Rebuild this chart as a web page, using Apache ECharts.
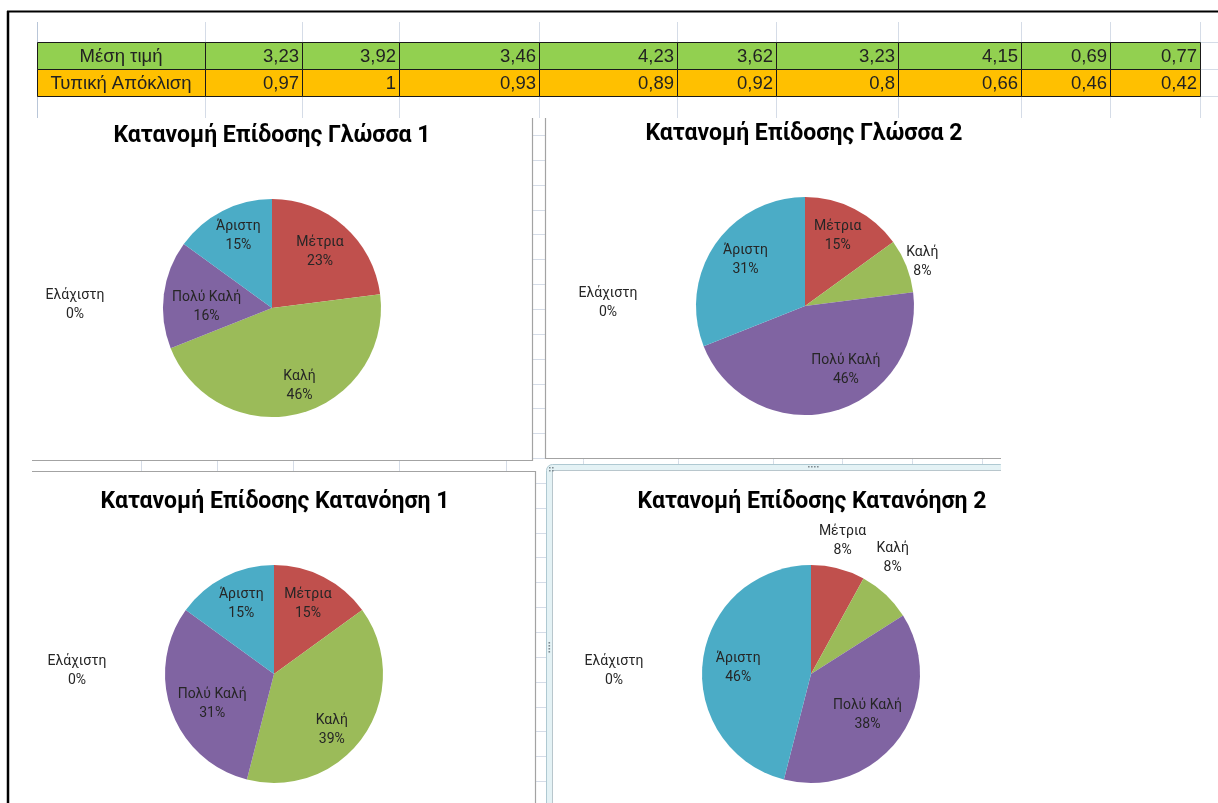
<!DOCTYPE html>
<html><head><meta charset="utf-8">
<script src="https://cdn.jsdelivr.net/npm/echarts@6/dist/echarts.min.js"></script>
<style>html,body{margin:0;padding:0;background:#fff}#c{width:1218px;height:803px}</style>
</head><body><div id="c"></div><script>
// ---------------- data ----------------
const categories = ['Ελάχιστη', 'Μέτρια', 'Καλή', 'Πολύ Καλή', 'Άριστη'];
const chartTitles = ['Κατανομή Επίδοσης Γλώσσα 1', 'Κατανομή Επίδοσης Γλώσσα 2',
  'Κατανομή Επίδοσης Κατανόηση 1', 'Κατανομή Επίδοσης Κατανόηση 2'];
const glossa1 = [0, 23, 46, 16, 15];
const glossa2 = [0, 15, 8, 46, 31];
const katanoisi1 = [0, 15, 39, 31, 15];
const katanoisi2 = [0, 8, 8, 38, 46];
const tableRowLabels = ['Μέση τιμή', 'Τυπική Απόκλιση'];
const meanValues = [3.23, 3.92, 3.46, 4.23, 3.62, 3.23, 4.15, 0.69, 0.77];
const stdValues = [0.97, 1, 0.93, 0.89, 0.92, 0.8, 0.66, 0.46, 0.42];

// ---------------- layout / style ----------------
const sliceColors = ['#4F81BD', '#C0504D', '#9BBB59', '#8064A2', '#4BACC6'];
const colEdges = [37, 205, 302, 399, 539, 677, 776, 898, 1021, 1110, 1200];
const rowEdges = [42, 69, 96];
const rowFills = ['#92D050', '#FFC000'];
const lowerCols = [141, 217, 293, 399, 506, 583, 678, 773, 842, 912, 982];
const GRID = '#D5DCE7';
const FRAME = '#A3A3A3';
const R = 109;
const ZERO_DX = -197, ZERO_DY = -3;
const pieLayouts = [
  { center: [272, 308], title: [272, 136], adj: [null, [0.68, -1], [0.76, -5], [0.60, -6], [0.73, 2]] },
  { center: [805, 306], title: [804, 134], adj: [null, [0.71, -2], [1.15, 1], [0.70, -18], [0.69, 3.5]] },
  { center: [274, 674], title: [275, 502], adj: [null, [0.71, -1], [0.74, 10], [0.63, -6], [0.71, 2]] },
  { center: [811, 674], title: [812, 502], adj: [null, [1.25, -1], [1.30, -8], [0.64, 0], [0.67, -2.5]] }
];
const pieData = [glossa1, glossa2, katanoisi1, katanoisi2];

function fmt(v) { return String(v).replace('.', ','); }

// ---------------- graphic: sheet, frames, table ----------------
const g = [];
function line(x1, y1, x2, y2, color, w, z) {
  g.push({ type: 'line', z: z, silent: true, shape: { x1, y1, x2, y2 }, style: { stroke: color, lineWidth: w } });
}
function rect(x, y, w, h, fill, stroke, lw, z, r) {
  g.push({ type: 'rect', z: z, silent: true, shape: { x, y, width: w, height: h, r: r || 0 },
    style: { fill: fill, stroke: stroke || null, lineWidth: lw || 0 } });
}
// top sheet grid lines
colEdges.forEach(x => line(x + 0.5, 22, x + 0.5, 118, x === 37 ? '#B9C6D8' : GRID, 1, 0));
rowEdges.forEach(y => line(1200, y + 0.5, 1218, y + 0.5, GRID, 1, 0));
// lower sheet grid
lowerCols.forEach(x => line(x + 0.5, 118, x + 0.5, 803, GRID, 1, 0));
for (let y = 135; y < 803; y += 24.85) line(32, Math.round(y) + 0.5, 1000, Math.round(y) + 0.5, GRID, 1, 0);
// chart areas
rect(32, 118, 500, 342, '#fff', null, 0, 1);
line(532.5, 118, 532.5, 461, FRAME, 1.2, 2);
line(32, 460.5, 533, 460.5, FRAME, 1.2, 2);
rect(545, 118, 470, 340, '#fff', null, 0, 1);
line(545.5, 118, 545.5, 459, FRAME, 1.2, 2);
line(545, 458.5, 1001, 458.5, FRAME, 1.2, 2);
rect(32, 471, 503, 340, '#fff', null, 0, 1);
line(32, 471.5, 536, 471.5, FRAME, 1.2, 2);
line(535.5, 471, 535.5, 803, FRAME, 1.2, 2);
// selected chart frame (cut at the window edge x=1000)
rect(546.5, 464.5, 460, 350, '#E4F2F5', '#AFC9D2', 1, 1, 6);
rect(552.5, 470.5, 460, 350, '#fff', '#B8C6CC', 1, 1, 0);
rect(1001, 460, 20, 343, '#fff', null, 0, 2);
[808, 811, 814, 817].forEach(x => rect(x, 466, 1.6, 1.6, '#7F8B92', null, 0, 2));
[642, 645, 648, 651].forEach(y => rect(548.5, y, 1.6, 1.6, '#7F8B92', null, 0, 2));
[[549, 467], [552, 467], [549, 470], [552, 470]].forEach(p => rect(p[0], p[1], 1.6, 1.6, '#7F8B92', null, 0, 2));
// outer black frame
line(7, 11.5, 1218, 11.5, '#000', 2, 3);
line(8, 11, 8, 803, '#000', 2.5, 3);
// table
const tableRows = [{ label: tableRowLabels[0], values: meanValues }, { label: tableRowLabels[1], values: stdValues }];
tableRows.forEach((row, r) => {
  const y0 = rowEdges[r], y1 = rowEdges[r + 1];
  for (let c = 0; c < colEdges.length - 1; c++) {
    const x0 = colEdges[c], x1 = colEdges[c + 1];
    rect(x0 + 0.5, y0 + 0.5, x1 - x0, y1 - y0, rowFills[r], '#1A1A1A', 1, 4);
    const isLabel = c === 0;
    g.push({ type: 'text', z: 5, silent: true,
      x: isLabel ? (x0 + x1) / 2 : x1 - 3, y: (y0 + y1) / 2 + 1,
      style: { text: isLabel ? row.label : fmt(row.values[c - 1]),
        align: isLabel ? 'center' : 'right', verticalAlign: 'middle',
        font: '18.5px "Liberation Sans", Arial, sans-serif', fill: '#222' } });
  }
});

// ---------------- pies ----------------
function makeLabelLayout(p) {
  const cx = p.center[0], cy = p.center[1];
  return function (params) {
    const i = params.dataIndex;
    if (i === 0) return { x: cx + ZERO_DX, y: cy + ZERO_DY };
    const rc = params.labelRect;
    const lx = rc.x + rc.width / 2, ly = rc.y + rc.height / 2;
    const ang = Math.atan2(lx - cx, -(ly - cy)) + p.adj[i][1] * Math.PI / 180;
    const d = p.adj[i][0] * R;
    return { x: cx + d * Math.sin(ang), y: cy - d * Math.cos(ang) };
  };
}

const series = pieLayouts.map((p, s) => ({
  type: 'pie', center: p.center, radius: [0, R], startAngle: 90, clockwise: true,
  percentPrecision: 0, avoidLabelOverlap: false, silent: true, animation: false, z: 6,
  data: categories.map((name, k) => ({ name: name, value: pieData[s][k] })),
  label: { show: true, position: 'inside', formatter: '{b}\n{d}%', color: '#262626',
    fontFamily: 'Roboto', fontSize: 14, lineHeight: 19 },
  labelLine: { show: false },
  labelLayout: makeLabelLayout(p),
  itemStyle: { borderWidth: 0 },
  emphasis: { disabled: true }
}));

const titles = pieLayouts.map((p, s) => ({
  text: chartTitles[s], left: p.title[0], top: p.title[1] - 15, textAlign: 'center', padding: 0, z: 7,
  textStyle: { fontFamily: 'Roboto', fontWeight: 'bold', fontSize: 23, lineHeight: 30, color: '#000' }
}));

const chart = echarts.init(document.getElementById('c'), null, { renderer: 'canvas' });
chart.setOption({
  backgroundColor: '#fff',
  animation: false,
  color: sliceColors,
  title: titles,
  graphic: { elements: g },
  series: series
});
</script></body></html>
